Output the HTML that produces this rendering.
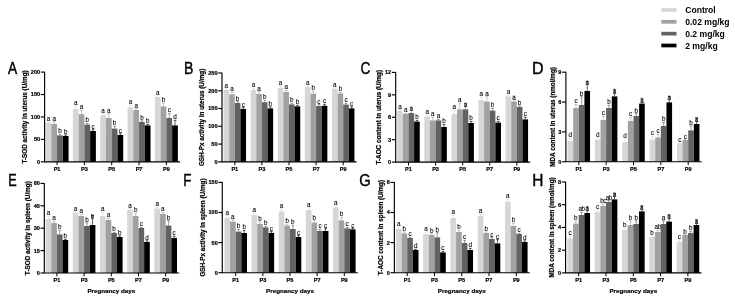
<!DOCTYPE html>
<html><head><meta charset="utf-8"><title>Figure</title>
<style>
html,body{margin:0;padding:0;background:#fff;}
svg{display:block;filter:grayscale(1);}
text{font-family:'Liberation Sans', Arial, sans-serif;fill:#000;}
.lt{font-size:6.3px;text-anchor:middle;stroke:#000;stroke-width:0.1px;}
.tk{font-size:5.55px;font-weight:bold;stroke:#000;stroke-width:0.2px;}
.ti{font-size:6.33px;font-weight:bold;stroke:#000;stroke-width:0.2px;}
.xt{font-size:6.24px;}
.pl{font-size:16.5px;stroke:#000;stroke-width:0.45px;}
.lg{font-size:8.6px;font-weight:bold;}
</style></head><body>
<svg width="735" height="302" viewBox="0 0 735 302">
<rect width="735" height="302" fill="#fff"/>
<rect x="45.55" y="123.00" width="5.75" height="38.80" fill="#d6d6d6"/>
<path d="M48.42 123.00V121.60M46.97 121.90H49.88" stroke="#d6d6d6" stroke-width="0.62" fill="none"/>
<text x="48.42" y="120.80" class="lt">a</text>
<rect x="51.30" y="124.00" width="5.75" height="37.80" fill="#a1a1a4"/>
<path d="M54.17 124.00V121.40M52.72 121.70H55.62" stroke="#a1a1a4" stroke-width="0.62" fill="none"/>
<text x="54.17" y="120.60" class="lt">a</text>
<rect x="57.05" y="135.40" width="5.75" height="26.40" fill="#626261"/>
<path d="M59.92 135.40V134.00M58.47 134.30H61.38" stroke="#626261" stroke-width="0.62" fill="none"/>
<text x="59.92" y="133.20" class="lt">b</text>
<rect x="62.80" y="136.00" width="5.75" height="25.80" fill="#000000"/>
<path d="M65.67 136.00V134.60M64.22 134.90H67.12" stroke="#000000" stroke-width="0.62" fill="none"/>
<text x="65.67" y="133.80" class="lt">b</text>
<rect x="72.88" y="109.00" width="5.75" height="52.80" fill="#d6d6d6"/>
<path d="M75.75 109.00V105.60M74.30 105.90H77.20" stroke="#d6d6d6" stroke-width="0.62" fill="none"/>
<text x="75.75" y="104.80" class="lt">a</text>
<rect x="78.63" y="114.20" width="5.75" height="47.60" fill="#a1a1a4"/>
<path d="M81.50 114.20V110.00M80.05 110.30H82.95" stroke="#a1a1a4" stroke-width="0.62" fill="none"/>
<text x="81.50" y="109.20" class="lt">a</text>
<rect x="84.38" y="124.60" width="5.75" height="37.20" fill="#626261"/>
<path d="M87.25 124.60V123.00M85.80 123.30H88.70" stroke="#626261" stroke-width="0.62" fill="none"/>
<text x="87.25" y="122.20" class="lt">b</text>
<rect x="90.13" y="131.00" width="5.75" height="30.80" fill="#000000"/>
<path d="M93.00 131.00V129.40M91.55 129.70H94.45" stroke="#000000" stroke-width="0.62" fill="none"/>
<text x="93.00" y="128.60" class="lt">c</text>
<rect x="100.21" y="115.40" width="5.75" height="46.40" fill="#d6d6d6"/>
<path d="M103.08 115.40V114.00M101.63 114.30H104.53" stroke="#d6d6d6" stroke-width="0.62" fill="none"/>
<text x="103.08" y="113.20" class="lt">a</text>
<rect x="105.96" y="118.00" width="5.75" height="43.80" fill="#a1a1a4"/>
<path d="M108.83 118.00V113.60M107.38 113.90H110.28" stroke="#a1a1a4" stroke-width="0.62" fill="none"/>
<text x="108.83" y="112.80" class="lt">a</text>
<rect x="111.71" y="128.60" width="5.75" height="33.20" fill="#626261"/>
<path d="M114.58 128.60V126.00M113.13 126.30H116.03" stroke="#626261" stroke-width="0.62" fill="none"/>
<text x="114.58" y="125.20" class="lt">b</text>
<rect x="117.46" y="135.00" width="5.75" height="26.80" fill="#000000"/>
<path d="M120.33 135.00V133.60M118.88 133.90H121.78" stroke="#000000" stroke-width="0.62" fill="none"/>
<text x="120.33" y="132.80" class="lt">c</text>
<rect x="127.54" y="107.40" width="5.75" height="54.40" fill="#d6d6d6"/>
<path d="M130.41 107.40V105.00M128.97 105.30H131.86" stroke="#d6d6d6" stroke-width="0.62" fill="none"/>
<text x="130.41" y="104.20" class="lt">a</text>
<rect x="133.29" y="110.00" width="5.75" height="51.80" fill="#a1a1a4"/>
<path d="M136.16 110.00V108.60M134.72 108.90H137.61" stroke="#a1a1a4" stroke-width="0.62" fill="none"/>
<text x="136.16" y="107.80" class="lt">a</text>
<rect x="139.04" y="122.00" width="5.75" height="39.80" fill="#626261"/>
<path d="M141.91 122.00V120.60M140.47 120.90H143.36" stroke="#626261" stroke-width="0.62" fill="none"/>
<text x="141.91" y="119.80" class="lt">b</text>
<rect x="144.79" y="125.40" width="5.75" height="36.40" fill="#000000"/>
<path d="M147.66 125.40V124.00M146.22 124.30H149.11" stroke="#000000" stroke-width="0.62" fill="none"/>
<text x="147.66" y="123.20" class="lt">b</text>
<rect x="154.87" y="97.00" width="5.75" height="64.80" fill="#d6d6d6"/>
<path d="M157.75 97.00V95.40M156.30 95.70H159.19" stroke="#d6d6d6" stroke-width="0.62" fill="none"/>
<text x="157.75" y="94.60" class="lt">a</text>
<rect x="160.62" y="106.40" width="5.75" height="55.40" fill="#a1a1a4"/>
<path d="M163.50 106.40V103.00M162.05 103.30H164.94" stroke="#a1a1a4" stroke-width="0.62" fill="none"/>
<text x="163.50" y="102.20" class="lt">b</text>
<rect x="166.37" y="118.00" width="5.75" height="43.80" fill="#626261"/>
<path d="M169.25 118.00V113.00M167.80 113.30H170.69" stroke="#626261" stroke-width="0.62" fill="none"/>
<text x="169.25" y="112.20" class="lt">c</text>
<rect x="172.12" y="125.40" width="5.75" height="36.40" fill="#000000"/>
<path d="M175.00 125.40V120.00M173.55 120.30H176.44" stroke="#000000" stroke-width="0.62" fill="none"/>
<text x="175.00" y="119.20" class="lt">d</text>
<path d="M44.60 71.75V161.80H180.07" stroke="#000" stroke-width="1.15" fill="none"/>
<path d="M40.80 161.80H44.60" stroke="#000" stroke-width="1.15"/>
<text x="40.10" y="163.70" class="tk" text-anchor="end">0</text>
<path d="M40.80 139.38H44.60" stroke="#000" stroke-width="1.15"/>
<text x="40.10" y="141.28" class="tk" text-anchor="end">50</text>
<path d="M40.80 116.95H44.60" stroke="#000" stroke-width="1.15"/>
<text x="40.10" y="118.85" class="tk" text-anchor="end">100</text>
<path d="M40.80 94.53H44.60" stroke="#000" stroke-width="1.15"/>
<text x="40.10" y="96.43" class="tk" text-anchor="end">150</text>
<path d="M40.80 72.10H44.60" stroke="#000" stroke-width="1.15"/>
<text x="40.10" y="74.00" class="tk" text-anchor="end">200</text>
<path d="M57.05 161.80V165.20" stroke="#000" stroke-width="1.0"/>
<text x="57.05" y="171.15" class="tk" text-anchor="middle">P1</text>
<path d="M84.38 161.80V165.20" stroke="#000" stroke-width="1.0"/>
<text x="84.38" y="171.15" class="tk" text-anchor="middle">P3</text>
<path d="M111.71 161.80V165.20" stroke="#000" stroke-width="1.0"/>
<text x="111.71" y="171.15" class="tk" text-anchor="middle">P5</text>
<path d="M139.04 161.80V165.20" stroke="#000" stroke-width="1.0"/>
<text x="139.04" y="171.15" class="tk" text-anchor="middle">P7</text>
<path d="M166.37 161.80V165.20" stroke="#000" stroke-width="1.0"/>
<text x="166.37" y="171.15" class="tk" text-anchor="middle">P9</text>
<text transform="translate(26.90 116.95) rotate(-90)" class="ti" text-anchor="middle">T-SOD activity in uterus (U/mg)</text>
<text transform="translate(8.10 74.45) scale(0.835 1)" class="pl">A</text>
<rect x="223.56" y="90.00" width="5.62" height="71.85" fill="#d6d6d6"/>
<path d="M226.37 90.00V88.60M224.92 88.90H227.82" stroke="#d6d6d6" stroke-width="0.62" fill="none"/>
<text x="226.37" y="87.80" class="lt">a</text>
<rect x="229.18" y="94.40" width="5.62" height="67.45" fill="#a1a1a4"/>
<path d="M231.99 94.40V92.00M230.54 92.30H233.44" stroke="#a1a1a4" stroke-width="0.62" fill="none"/>
<text x="231.99" y="91.20" class="lt">a</text>
<rect x="234.80" y="103.00" width="5.62" height="58.85" fill="#626261"/>
<path d="M237.61 103.00V101.40M236.16 101.70H239.06" stroke="#626261" stroke-width="0.62" fill="none"/>
<text x="237.61" y="100.60" class="lt">b</text>
<rect x="240.42" y="109.00" width="5.62" height="52.85" fill="#000000"/>
<path d="M243.23 109.00V107.40M241.78 107.70H244.68" stroke="#000000" stroke-width="0.62" fill="none"/>
<text x="243.23" y="106.60" class="lt">c</text>
<rect x="250.66" y="90.00" width="5.62" height="71.85" fill="#d6d6d6"/>
<path d="M253.47 90.00V88.00M252.02 88.30H254.92" stroke="#d6d6d6" stroke-width="0.62" fill="none"/>
<text x="253.47" y="87.20" class="lt">a</text>
<rect x="256.28" y="94.00" width="5.62" height="67.85" fill="#a1a1a4"/>
<path d="M259.09 94.00V91.60M257.64 91.90H260.54" stroke="#a1a1a4" stroke-width="0.62" fill="none"/>
<text x="259.09" y="90.80" class="lt">a</text>
<rect x="261.90" y="102.20" width="5.62" height="59.65" fill="#626261"/>
<path d="M264.71 102.20V100.00M263.26 100.30H266.16" stroke="#626261" stroke-width="0.62" fill="none"/>
<text x="264.71" y="99.20" class="lt">b</text>
<rect x="267.52" y="108.40" width="5.62" height="53.45" fill="#000000"/>
<path d="M270.33 108.40V106.60M268.88 106.90H271.78" stroke="#000000" stroke-width="0.62" fill="none"/>
<text x="270.33" y="105.80" class="lt">b</text>
<rect x="277.76" y="88.00" width="5.62" height="73.85" fill="#d6d6d6"/>
<path d="M280.57 88.00V86.00M279.12 86.30H282.02" stroke="#d6d6d6" stroke-width="0.62" fill="none"/>
<text x="280.57" y="85.20" class="lt">a</text>
<rect x="283.38" y="92.00" width="5.62" height="69.85" fill="#a1a1a4"/>
<path d="M286.19 92.00V90.00M284.74 90.30H287.64" stroke="#a1a1a4" stroke-width="0.62" fill="none"/>
<text x="286.19" y="89.20" class="lt">a</text>
<rect x="289.00" y="104.40" width="5.62" height="57.45" fill="#626261"/>
<path d="M291.81 104.40V103.00M290.36 103.30H293.26" stroke="#626261" stroke-width="0.62" fill="none"/>
<text x="291.81" y="102.20" class="lt">b</text>
<rect x="294.62" y="106.40" width="5.62" height="55.45" fill="#000000"/>
<path d="M297.43 106.40V105.00M295.98 105.30H298.88" stroke="#000000" stroke-width="0.62" fill="none"/>
<text x="297.43" y="104.20" class="lt">b</text>
<rect x="304.86" y="87.00" width="5.62" height="74.85" fill="#d6d6d6"/>
<path d="M307.67 87.00V85.70M306.22 86.00H309.12" stroke="#d6d6d6" stroke-width="0.62" fill="none"/>
<text x="307.67" y="84.90" class="lt">a</text>
<rect x="310.48" y="93.60" width="5.62" height="68.25" fill="#a1a1a4"/>
<path d="M313.29 93.60V91.00M311.84 91.30H314.74" stroke="#a1a1a4" stroke-width="0.62" fill="none"/>
<text x="313.29" y="90.20" class="lt">b</text>
<rect x="316.10" y="106.00" width="5.62" height="55.85" fill="#626261"/>
<path d="M318.91 106.00V104.40M317.46 104.70H320.36" stroke="#626261" stroke-width="0.62" fill="none"/>
<text x="318.91" y="103.60" class="lt">c</text>
<rect x="321.72" y="105.80" width="5.62" height="56.05" fill="#000000"/>
<path d="M324.53 105.80V104.00M323.08 104.30H325.98" stroke="#000000" stroke-width="0.62" fill="none"/>
<text x="324.53" y="103.20" class="lt">c</text>
<rect x="331.96" y="89.00" width="5.62" height="72.85" fill="#d6d6d6"/>
<path d="M334.77 89.00V87.70M333.32 88.00H336.22" stroke="#d6d6d6" stroke-width="0.62" fill="none"/>
<text x="334.77" y="86.90" class="lt">a</text>
<rect x="337.58" y="93.40" width="5.62" height="68.45" fill="#a1a1a4"/>
<path d="M340.39 93.40V92.00M338.94 92.30H341.84" stroke="#a1a1a4" stroke-width="0.62" fill="none"/>
<text x="340.39" y="91.20" class="lt">b</text>
<rect x="343.20" y="104.60" width="5.62" height="57.25" fill="#626261"/>
<path d="M346.01 104.60V103.00M344.56 103.30H347.46" stroke="#626261" stroke-width="0.62" fill="none"/>
<text x="346.01" y="102.20" class="lt">c</text>
<rect x="348.82" y="108.40" width="5.62" height="53.45" fill="#000000"/>
<path d="M351.63 108.40V106.60M350.18 106.90H353.08" stroke="#000000" stroke-width="0.62" fill="none"/>
<text x="351.63" y="105.80" class="lt">c</text>
<path d="M222.00 72.65V161.85H356.64" stroke="#000" stroke-width="1.15" fill="none"/>
<path d="M218.20 161.85H222.00" stroke="#000" stroke-width="1.15"/>
<text x="217.50" y="163.75" class="tk" text-anchor="end">0</text>
<path d="M218.20 144.08H222.00" stroke="#000" stroke-width="1.15"/>
<text x="217.50" y="145.98" class="tk" text-anchor="end">50</text>
<path d="M218.20 126.31H222.00" stroke="#000" stroke-width="1.15"/>
<text x="217.50" y="128.21" class="tk" text-anchor="end">100</text>
<path d="M218.20 108.54H222.00" stroke="#000" stroke-width="1.15"/>
<text x="217.50" y="110.44" class="tk" text-anchor="end">150</text>
<path d="M218.20 90.77H222.00" stroke="#000" stroke-width="1.15"/>
<text x="217.50" y="92.67" class="tk" text-anchor="end">200</text>
<path d="M218.20 73.00H222.00" stroke="#000" stroke-width="1.15"/>
<text x="217.50" y="74.90" class="tk" text-anchor="end">250</text>
<path d="M234.80 161.85V165.25" stroke="#000" stroke-width="1.0"/>
<text x="234.80" y="171.20" class="tk" text-anchor="middle">P1</text>
<path d="M261.90 161.85V165.25" stroke="#000" stroke-width="1.0"/>
<text x="261.90" y="171.20" class="tk" text-anchor="middle">P3</text>
<path d="M289.00 161.85V165.25" stroke="#000" stroke-width="1.0"/>
<text x="289.00" y="171.20" class="tk" text-anchor="middle">P5</text>
<path d="M316.10 161.85V165.25" stroke="#000" stroke-width="1.0"/>
<text x="316.10" y="171.20" class="tk" text-anchor="middle">P7</text>
<path d="M343.20 161.85V165.25" stroke="#000" stroke-width="1.0"/>
<text x="343.20" y="171.20" class="tk" text-anchor="middle">P9</text>
<text transform="translate(204.30 117.42) rotate(-90)" class="ti" text-anchor="middle">GSH-Px activity in uterus (U/mg)</text>
<text transform="translate(183.94 74.45) scale(0.854 1)" class="pl">B</text>
<rect x="397.26" y="111.00" width="5.62" height="51.10" fill="#d6d6d6"/>
<path d="M400.07 111.00V109.40M398.62 109.70H401.52" stroke="#d6d6d6" stroke-width="0.62" fill="none"/>
<text x="400.07" y="108.60" class="lt">a</text>
<rect x="402.88" y="114.00" width="5.62" height="48.10" fill="#a1a1a4"/>
<path d="M405.69 114.00V113.00M404.24 113.30H407.14" stroke="#a1a1a4" stroke-width="0.62" fill="none"/>
<text x="405.69" y="112.20" class="lt">a</text>
<rect x="408.50" y="113.00" width="5.62" height="49.10" fill="#626261"/>
<path d="M411.31 113.00V106.80M409.86 107.10H412.76" stroke="#626261" stroke-width="0.62" fill="none"/>
<text x="411.31" y="111.30" class="lt">a</text>
<rect x="414.12" y="121.60" width="5.62" height="40.50" fill="#000000"/>
<path d="M416.93 121.60V120.00M415.48 120.30H418.38" stroke="#000000" stroke-width="0.62" fill="none"/>
<text x="416.93" y="119.20" class="lt">b</text>
<rect x="424.34" y="116.60" width="5.62" height="45.50" fill="#d6d6d6"/>
<path d="M427.15 116.60V115.00M425.70 115.30H428.60" stroke="#d6d6d6" stroke-width="0.62" fill="none"/>
<text x="427.15" y="114.20" class="lt">a</text>
<rect x="429.96" y="120.40" width="5.62" height="41.70" fill="#a1a1a4"/>
<path d="M432.77 120.40V117.00M431.32 117.30H434.22" stroke="#a1a1a4" stroke-width="0.62" fill="none"/>
<text x="432.77" y="116.20" class="lt">a</text>
<rect x="435.58" y="120.40" width="5.62" height="41.70" fill="#626261"/>
<path d="M438.39 120.40V119.00M436.94 119.30H439.84" stroke="#626261" stroke-width="0.62" fill="none"/>
<text x="438.39" y="118.20" class="lt">a</text>
<rect x="441.20" y="127.00" width="5.62" height="35.10" fill="#000000"/>
<path d="M444.01 127.00V124.00M442.56 124.30H445.46" stroke="#000000" stroke-width="0.62" fill="none"/>
<text x="444.01" y="123.20" class="lt">b</text>
<rect x="451.42" y="114.00" width="5.62" height="48.10" fill="#d6d6d6"/>
<path d="M454.23 114.00V110.00M452.78 110.30H455.68" stroke="#d6d6d6" stroke-width="0.62" fill="none"/>
<text x="454.23" y="109.20" class="lt">a</text>
<rect x="457.04" y="109.40" width="5.62" height="52.70" fill="#a1a1a4"/>
<path d="M459.85 109.40V103.00M458.40 103.30H461.30" stroke="#a1a1a4" stroke-width="0.62" fill="none"/>
<text x="459.85" y="102.20" class="lt">a</text>
<rect x="462.66" y="109.40" width="5.62" height="52.70" fill="#626261"/>
<path d="M465.47 109.40V102.90M464.02 103.20H466.92" stroke="#626261" stroke-width="0.62" fill="none"/>
<text x="465.47" y="107.40" class="lt">a</text>
<rect x="468.28" y="123.00" width="5.62" height="39.10" fill="#000000"/>
<path d="M471.09 123.00V121.00M469.64 121.30H472.54" stroke="#000000" stroke-width="0.62" fill="none"/>
<text x="471.09" y="120.20" class="lt">b</text>
<rect x="478.50" y="100.00" width="5.62" height="62.10" fill="#d6d6d6"/>
<path d="M481.31 100.00V96.70M479.86 97.00H482.76" stroke="#d6d6d6" stroke-width="0.62" fill="none"/>
<text x="481.31" y="95.90" class="lt">a</text>
<rect x="484.12" y="101.60" width="5.62" height="60.50" fill="#a1a1a4"/>
<path d="M486.93 101.60V96.60M485.48 96.90H488.38" stroke="#a1a1a4" stroke-width="0.62" fill="none"/>
<text x="486.93" y="95.80" class="lt">a</text>
<rect x="489.74" y="110.60" width="5.62" height="51.50" fill="#626261"/>
<path d="M492.55 110.60V108.00M491.10 108.30H494.00" stroke="#626261" stroke-width="0.62" fill="none"/>
<text x="492.55" y="107.20" class="lt">b</text>
<rect x="495.36" y="122.60" width="5.62" height="39.50" fill="#000000"/>
<path d="M498.17 122.60V121.00M496.72 121.30H499.62" stroke="#000000" stroke-width="0.62" fill="none"/>
<text x="498.17" y="120.20" class="lt">c</text>
<rect x="505.58" y="96.40" width="5.62" height="65.70" fill="#d6d6d6"/>
<path d="M508.39 96.40V95.00M506.94 95.30H509.84" stroke="#d6d6d6" stroke-width="0.62" fill="none"/>
<text x="508.39" y="94.20" class="lt">a</text>
<rect x="511.20" y="101.40" width="5.62" height="60.70" fill="#a1a1a4"/>
<path d="M514.01 101.40V95.40M512.56 95.70H515.46" stroke="#a1a1a4" stroke-width="0.62" fill="none"/>
<text x="514.01" y="99.90" class="lt">a</text>
<rect x="516.82" y="107.00" width="5.62" height="55.10" fill="#626261"/>
<path d="M519.63 107.00V105.60M518.18 105.90H521.08" stroke="#626261" stroke-width="0.62" fill="none"/>
<text x="519.63" y="104.80" class="lt">b</text>
<rect x="522.44" y="119.40" width="5.62" height="42.70" fill="#000000"/>
<path d="M525.25 119.40V117.00M523.80 117.30H526.70" stroke="#000000" stroke-width="0.62" fill="none"/>
<text x="525.25" y="116.20" class="lt">c</text>
<path d="M395.70 72.05V162.10H530.26" stroke="#000" stroke-width="1.15" fill="none"/>
<path d="M391.90 162.10H395.70" stroke="#000" stroke-width="1.15"/>
<text x="391.20" y="164.00" class="tk" text-anchor="end">0</text>
<path d="M391.90 139.68H395.70" stroke="#000" stroke-width="1.15"/>
<text x="391.20" y="141.58" class="tk" text-anchor="end">3</text>
<path d="M391.90 117.25H395.70" stroke="#000" stroke-width="1.15"/>
<text x="391.20" y="119.15" class="tk" text-anchor="end">6</text>
<path d="M391.90 94.83H395.70" stroke="#000" stroke-width="1.15"/>
<text x="391.20" y="96.73" class="tk" text-anchor="end">9</text>
<path d="M391.90 72.40H395.70" stroke="#000" stroke-width="1.15"/>
<text x="391.20" y="74.30" class="tk" text-anchor="end">12</text>
<path d="M408.50 162.10V165.50" stroke="#000" stroke-width="1.0"/>
<text x="408.50" y="171.45" class="tk" text-anchor="middle">P1</text>
<path d="M435.58 162.10V165.50" stroke="#000" stroke-width="1.0"/>
<text x="435.58" y="171.45" class="tk" text-anchor="middle">P3</text>
<path d="M462.66 162.10V165.50" stroke="#000" stroke-width="1.0"/>
<text x="462.66" y="171.45" class="tk" text-anchor="middle">P5</text>
<path d="M489.74 162.10V165.50" stroke="#000" stroke-width="1.0"/>
<text x="489.74" y="171.45" class="tk" text-anchor="middle">P7</text>
<path d="M516.82 162.10V165.50" stroke="#000" stroke-width="1.0"/>
<text x="516.82" y="171.45" class="tk" text-anchor="middle">P9</text>
<text transform="translate(381.30 117.25) rotate(-90)" class="ti" text-anchor="middle">T-AOC content in uterus (U/mg)</text>
<text transform="translate(360.48 74.45) scale(0.828 1)" class="pl">C</text>
<rect x="567.56" y="141.00" width="5.62" height="20.70" fill="#d6d6d6"/>
<path d="M570.37 141.00V138.20M568.92 138.50H571.82" stroke="#d6d6d6" stroke-width="0.62" fill="none"/>
<text x="570.37" y="137.40" class="lt">d</text>
<rect x="573.18" y="108.00" width="5.62" height="53.70" fill="#a1a1a4"/>
<path d="M575.99 108.00V104.20M574.54 104.50H577.44" stroke="#a1a1a4" stroke-width="0.62" fill="none"/>
<text x="575.99" y="103.40" class="lt">c</text>
<rect x="578.80" y="105.00" width="5.62" height="56.70" fill="#626261"/>
<path d="M581.61 105.00V96.50M580.16 96.80H583.06" stroke="#626261" stroke-width="0.62" fill="none"/>
<text x="581.61" y="95.70" class="lt">b</text>
<rect x="584.42" y="91.00" width="5.62" height="70.70" fill="#000000"/>
<path d="M587.23 91.00V80.90M585.78 81.20H588.68" stroke="#000000" stroke-width="0.62" fill="none"/>
<text x="587.23" y="85.40" class="lt">a</text>
<rect x="594.91" y="139.60" width="5.62" height="22.10" fill="#d6d6d6"/>
<path d="M597.72 139.60V138.00M596.27 138.30H599.17" stroke="#d6d6d6" stroke-width="0.62" fill="none"/>
<text x="597.72" y="137.20" class="lt">d</text>
<rect x="600.53" y="120.00" width="5.62" height="41.70" fill="#a1a1a4"/>
<path d="M603.34 120.00V116.00M601.89 116.30H604.79" stroke="#a1a1a4" stroke-width="0.62" fill="none"/>
<text x="603.34" y="115.20" class="lt">c</text>
<rect x="606.15" y="108.00" width="5.62" height="53.70" fill="#626261"/>
<path d="M608.96 108.00V105.00M607.51 105.30H610.41" stroke="#626261" stroke-width="0.62" fill="none"/>
<text x="608.96" y="104.20" class="lt">b</text>
<rect x="611.77" y="96.40" width="5.62" height="65.30" fill="#000000"/>
<path d="M614.58 96.40V89.00M613.13 89.30H616.03" stroke="#000000" stroke-width="0.62" fill="none"/>
<text x="614.58" y="93.50" class="lt">a</text>
<rect x="622.26" y="142.00" width="5.62" height="19.70" fill="#d6d6d6"/>
<path d="M625.07 142.00V139.00M623.62 139.30H626.52" stroke="#d6d6d6" stroke-width="0.62" fill="none"/>
<text x="625.07" y="138.20" class="lt">d</text>
<rect x="627.88" y="121.00" width="5.62" height="40.70" fill="#a1a1a4"/>
<path d="M630.69 121.00V117.00M629.24 117.30H632.14" stroke="#a1a1a4" stroke-width="0.62" fill="none"/>
<text x="630.69" y="116.20" class="lt">c</text>
<rect x="633.50" y="116.00" width="5.62" height="45.70" fill="#626261"/>
<path d="M636.31 116.00V113.40M634.86 113.70H637.76" stroke="#626261" stroke-width="0.62" fill="none"/>
<text x="636.31" y="112.60" class="lt">b</text>
<rect x="639.12" y="103.60" width="5.62" height="58.10" fill="#000000"/>
<path d="M641.93 103.60V98.10M640.48 98.40H643.38" stroke="#000000" stroke-width="0.62" fill="none"/>
<text x="641.93" y="102.60" class="lt">a</text>
<rect x="649.61" y="139.60" width="5.62" height="22.10" fill="#d6d6d6"/>
<path d="M652.42 139.60V136.00M650.97 136.30H653.87" stroke="#d6d6d6" stroke-width="0.62" fill="none"/>
<text x="652.42" y="135.20" class="lt">c</text>
<rect x="655.23" y="137.40" width="5.62" height="24.30" fill="#a1a1a4"/>
<path d="M658.04 137.40V134.00M656.59 134.30H659.49" stroke="#a1a1a4" stroke-width="0.62" fill="none"/>
<text x="658.04" y="133.20" class="lt">c</text>
<rect x="660.85" y="126.00" width="5.62" height="35.70" fill="#626261"/>
<path d="M663.66 126.00V122.00M662.21 122.30H665.11" stroke="#626261" stroke-width="0.62" fill="none"/>
<text x="663.66" y="121.20" class="lt">b</text>
<rect x="666.47" y="102.40" width="5.62" height="59.30" fill="#000000"/>
<path d="M669.28 102.40V95.90M667.83 96.20H670.73" stroke="#000000" stroke-width="0.62" fill="none"/>
<text x="669.28" y="100.40" class="lt">a</text>
<rect x="676.96" y="143.40" width="5.62" height="18.30" fill="#d6d6d6"/>
<path d="M679.77 143.40V142.40M678.32 142.70H681.22" stroke="#d6d6d6" stroke-width="0.62" fill="none"/>
<text x="679.77" y="141.60" class="lt">c</text>
<rect x="682.58" y="140.00" width="5.62" height="21.70" fill="#a1a1a4"/>
<path d="M685.39 140.00V139.60M683.94 139.90H686.84" stroke="#a1a1a4" stroke-width="0.62" fill="none"/>
<text x="685.39" y="138.80" class="lt">c</text>
<rect x="688.20" y="130.40" width="5.62" height="31.30" fill="#626261"/>
<path d="M691.01 130.40V125.60M689.56 125.90H692.46" stroke="#626261" stroke-width="0.62" fill="none"/>
<text x="691.01" y="124.80" class="lt">b</text>
<rect x="693.82" y="124.00" width="5.62" height="37.70" fill="#000000"/>
<path d="M696.63 124.00V117.40M695.18 117.70H698.08" stroke="#000000" stroke-width="0.62" fill="none"/>
<text x="696.63" y="121.90" class="lt">a</text>
<path d="M565.90 71.85V161.70H701.64" stroke="#000" stroke-width="1.15" fill="none"/>
<path d="M562.10 161.70H565.90" stroke="#000" stroke-width="1.15"/>
<text x="561.40" y="163.60" class="tk" text-anchor="end">0</text>
<path d="M562.10 131.87H565.90" stroke="#000" stroke-width="1.15"/>
<text x="561.40" y="133.77" class="tk" text-anchor="end">3</text>
<path d="M562.10 102.03H565.90" stroke="#000" stroke-width="1.15"/>
<text x="561.40" y="103.93" class="tk" text-anchor="end">6</text>
<path d="M562.10 72.20H565.90" stroke="#000" stroke-width="1.15"/>
<text x="561.40" y="74.10" class="tk" text-anchor="end">9</text>
<path d="M578.80 161.70V165.10" stroke="#000" stroke-width="1.0"/>
<text x="578.80" y="171.05" class="tk" text-anchor="middle">P1</text>
<path d="M606.15 161.70V165.10" stroke="#000" stroke-width="1.0"/>
<text x="606.15" y="171.05" class="tk" text-anchor="middle">P3</text>
<path d="M633.50 161.70V165.10" stroke="#000" stroke-width="1.0"/>
<text x="633.50" y="171.05" class="tk" text-anchor="middle">P5</text>
<path d="M660.85 161.70V165.10" stroke="#000" stroke-width="1.0"/>
<text x="660.85" y="171.05" class="tk" text-anchor="middle">P7</text>
<path d="M688.20 161.70V165.10" stroke="#000" stroke-width="1.0"/>
<text x="688.20" y="171.05" class="tk" text-anchor="middle">P9</text>
<text transform="translate(554.50 116.95) rotate(-90)" class="ti" text-anchor="middle">MDA content in uterus (nmol/mg)</text>
<text transform="translate(531.90 74.45) scale(0.976 1)" class="pl">D</text>
<rect x="45.60" y="219.00" width="5.65" height="54.00" fill="#d6d6d6"/>
<path d="M48.42 219.00V216.00M46.97 216.30H49.88" stroke="#d6d6d6" stroke-width="0.62" fill="none"/>
<text x="48.42" y="215.20" class="lt">a</text>
<rect x="51.25" y="223.00" width="5.65" height="50.00" fill="#a1a1a4"/>
<path d="M54.07 223.00V221.00M52.62 221.30H55.52" stroke="#a1a1a4" stroke-width="0.62" fill="none"/>
<text x="54.07" y="220.20" class="lt">a</text>
<rect x="56.90" y="234.40" width="5.65" height="38.60" fill="#626261"/>
<path d="M59.72 234.40V230.00M58.27 230.30H61.17" stroke="#626261" stroke-width="0.62" fill="none"/>
<text x="59.72" y="229.20" class="lt">b</text>
<rect x="62.55" y="240.00" width="5.65" height="33.00" fill="#000000"/>
<path d="M65.38 240.00V239.00M63.92 239.30H66.83" stroke="#000000" stroke-width="0.62" fill="none"/>
<text x="65.38" y="238.20" class="lt">b</text>
<rect x="72.80" y="213.00" width="5.65" height="60.00" fill="#d6d6d6"/>
<path d="M75.62 213.00V211.60M74.17 211.90H77.08" stroke="#d6d6d6" stroke-width="0.62" fill="none"/>
<text x="75.62" y="210.80" class="lt">a</text>
<rect x="78.45" y="216.00" width="5.65" height="57.00" fill="#a1a1a4"/>
<path d="M81.28 216.00V214.00M79.83 214.30H82.73" stroke="#a1a1a4" stroke-width="0.62" fill="none"/>
<text x="81.28" y="213.20" class="lt">a</text>
<rect x="84.10" y="226.00" width="5.65" height="47.00" fill="#626261"/>
<path d="M86.92 226.00V222.60M85.47 222.90H88.38" stroke="#626261" stroke-width="0.62" fill="none"/>
<text x="86.92" y="221.80" class="lt">b</text>
<rect x="89.75" y="225.00" width="5.65" height="48.00" fill="#000000"/>
<path d="M92.58 225.00V214.90M91.12 215.20H94.03" stroke="#000000" stroke-width="0.62" fill="none"/>
<text x="92.58" y="219.40" class="lt">b</text>
<rect x="100.00" y="216.00" width="5.65" height="57.00" fill="#d6d6d6"/>
<path d="M102.83 216.00V212.00M101.38 212.30H104.28" stroke="#d6d6d6" stroke-width="0.62" fill="none"/>
<text x="102.83" y="211.20" class="lt">a</text>
<rect x="105.65" y="220.00" width="5.65" height="53.00" fill="#a1a1a4"/>
<path d="M108.48 220.00V218.00M107.03 218.30H109.93" stroke="#a1a1a4" stroke-width="0.62" fill="none"/>
<text x="108.48" y="217.20" class="lt">a</text>
<rect x="111.30" y="233.00" width="5.65" height="40.00" fill="#626261"/>
<path d="M114.12 233.00V232.00M112.67 232.30H115.58" stroke="#626261" stroke-width="0.62" fill="none"/>
<text x="114.12" y="231.20" class="lt">b</text>
<rect x="116.95" y="237.00" width="5.65" height="36.00" fill="#000000"/>
<path d="M119.78 237.00V235.60M118.33 235.90H121.23" stroke="#000000" stroke-width="0.62" fill="none"/>
<text x="119.78" y="234.80" class="lt">b</text>
<rect x="127.20" y="210.00" width="5.65" height="63.00" fill="#d6d6d6"/>
<path d="M130.02 210.00V208.40M128.57 208.70H131.47" stroke="#d6d6d6" stroke-width="0.62" fill="none"/>
<text x="130.02" y="207.60" class="lt">a</text>
<rect x="132.85" y="216.00" width="5.65" height="57.00" fill="#a1a1a4"/>
<path d="M135.67 216.00V213.00M134.22 213.30H137.12" stroke="#a1a1a4" stroke-width="0.62" fill="none"/>
<text x="135.67" y="212.20" class="lt">b</text>
<rect x="138.50" y="228.00" width="5.65" height="45.00" fill="#626261"/>
<path d="M141.32 228.00V227.00M139.88 227.30H142.77" stroke="#626261" stroke-width="0.62" fill="none"/>
<text x="141.32" y="226.20" class="lt">c</text>
<rect x="144.15" y="242.00" width="5.65" height="31.00" fill="#000000"/>
<path d="M146.97 242.00V240.60M145.52 240.90H148.42" stroke="#000000" stroke-width="0.62" fill="none"/>
<text x="146.97" y="239.80" class="lt">d</text>
<rect x="154.40" y="208.60" width="5.65" height="64.40" fill="#d6d6d6"/>
<path d="M157.22 208.60V207.00M155.77 207.30H158.67" stroke="#d6d6d6" stroke-width="0.62" fill="none"/>
<text x="157.22" y="206.20" class="lt">a</text>
<rect x="160.05" y="214.00" width="5.65" height="59.00" fill="#a1a1a4"/>
<path d="M162.87 214.00V212.00M161.42 212.30H164.32" stroke="#a1a1a4" stroke-width="0.62" fill="none"/>
<text x="162.87" y="211.20" class="lt">a</text>
<rect x="165.70" y="225.60" width="5.65" height="47.40" fill="#626261"/>
<path d="M168.52 225.60V220.60M167.07 220.90H169.97" stroke="#626261" stroke-width="0.62" fill="none"/>
<text x="168.52" y="219.80" class="lt">b</text>
<rect x="171.35" y="238.00" width="5.65" height="35.00" fill="#000000"/>
<path d="M174.17 238.00V236.00M172.72 236.30H175.62" stroke="#000000" stroke-width="0.62" fill="none"/>
<text x="174.17" y="235.20" class="lt">c</text>
<path d="M44.30 183.05V273.00H179.20" stroke="#000" stroke-width="1.15" fill="none"/>
<path d="M40.50 273.00H44.30" stroke="#000" stroke-width="1.15"/>
<text x="39.80" y="274.90" class="tk" text-anchor="end">0</text>
<path d="M40.50 250.60H44.30" stroke="#000" stroke-width="1.15"/>
<text x="39.80" y="252.50" class="tk" text-anchor="end">15</text>
<path d="M40.50 228.20H44.30" stroke="#000" stroke-width="1.15"/>
<text x="39.80" y="230.10" class="tk" text-anchor="end">30</text>
<path d="M40.50 205.80H44.30" stroke="#000" stroke-width="1.15"/>
<text x="39.80" y="207.70" class="tk" text-anchor="end">45</text>
<path d="M40.50 183.40H44.30" stroke="#000" stroke-width="1.15"/>
<text x="39.80" y="185.30" class="tk" text-anchor="end">60</text>
<path d="M56.90 273.00V276.40" stroke="#000" stroke-width="1.0"/>
<text x="56.90" y="282.10" class="tk" text-anchor="middle">P1</text>
<path d="M84.10 273.00V276.40" stroke="#000" stroke-width="1.0"/>
<text x="84.10" y="282.10" class="tk" text-anchor="middle">P3</text>
<path d="M111.30 273.00V276.40" stroke="#000" stroke-width="1.0"/>
<text x="111.30" y="282.10" class="tk" text-anchor="middle">P5</text>
<path d="M138.50 273.00V276.40" stroke="#000" stroke-width="1.0"/>
<text x="138.50" y="282.10" class="tk" text-anchor="middle">P7</text>
<path d="M165.70 273.00V276.40" stroke="#000" stroke-width="1.0"/>
<text x="165.70" y="282.10" class="tk" text-anchor="middle">P9</text>
<text x="111.30" y="293.30" class="ti xt" text-anchor="middle">Pregnancy days</text>
<text transform="translate(29.90 228.20) rotate(-90)" class="ti" text-anchor="middle">T-SOD activity in spleen (U/mg)</text>
<text transform="translate(8.14 186.05) scale(0.768 1)" class="pl">E</text>
<rect x="224.40" y="218.00" width="5.65" height="54.70" fill="#d6d6d6"/>
<path d="M227.22 218.00V215.40M225.77 215.70H228.67" stroke="#d6d6d6" stroke-width="0.62" fill="none"/>
<text x="227.22" y="214.60" class="lt">a</text>
<rect x="230.05" y="221.60" width="5.65" height="51.10" fill="#a1a1a4"/>
<path d="M232.87 221.60V219.60M231.42 219.90H234.32" stroke="#a1a1a4" stroke-width="0.62" fill="none"/>
<text x="232.87" y="218.80" class="lt">a</text>
<rect x="235.70" y="231.60" width="5.65" height="41.10" fill="#626261"/>
<path d="M238.52 231.60V229.00M237.07 229.30H239.97" stroke="#626261" stroke-width="0.62" fill="none"/>
<text x="238.52" y="228.20" class="lt">b</text>
<rect x="241.35" y="233.00" width="5.65" height="39.70" fill="#000000"/>
<path d="M244.17 233.00V230.00M242.72 230.30H245.62" stroke="#000000" stroke-width="0.62" fill="none"/>
<text x="244.17" y="229.20" class="lt">b</text>
<rect x="251.55" y="215.00" width="5.65" height="57.70" fill="#d6d6d6"/>
<path d="M254.37 215.00V213.00M252.92 213.30H255.82" stroke="#d6d6d6" stroke-width="0.62" fill="none"/>
<text x="254.37" y="212.20" class="lt">a</text>
<rect x="257.20" y="224.00" width="5.65" height="48.70" fill="#a1a1a4"/>
<path d="M260.02 224.00V221.90M258.57 222.20H261.47" stroke="#a1a1a4" stroke-width="0.62" fill="none"/>
<text x="260.02" y="221.10" class="lt">b</text>
<rect x="262.85" y="227.40" width="5.65" height="45.30" fill="#626261"/>
<path d="M265.67 227.40V226.00M264.22 226.30H267.12" stroke="#626261" stroke-width="0.62" fill="none"/>
<text x="265.67" y="225.20" class="lt">b</text>
<rect x="268.50" y="233.00" width="5.65" height="39.70" fill="#000000"/>
<path d="M271.32 233.00V231.40M269.88 231.70H272.77" stroke="#000000" stroke-width="0.62" fill="none"/>
<text x="271.32" y="230.60" class="lt">c</text>
<rect x="278.70" y="211.40" width="5.65" height="61.30" fill="#d6d6d6"/>
<path d="M281.52 211.40V208.90M280.07 209.20H282.97" stroke="#d6d6d6" stroke-width="0.62" fill="none"/>
<text x="281.52" y="208.10" class="lt">a</text>
<rect x="284.35" y="225.60" width="5.65" height="47.10" fill="#a1a1a4"/>
<path d="M287.17 225.60V224.00M285.72 224.30H288.62" stroke="#a1a1a4" stroke-width="0.62" fill="none"/>
<text x="287.17" y="223.20" class="lt">b</text>
<rect x="290.00" y="229.00" width="5.65" height="43.70" fill="#626261"/>
<path d="M292.82 229.00V225.00M291.38 225.30H294.27" stroke="#626261" stroke-width="0.62" fill="none"/>
<text x="292.82" y="224.20" class="lt">b</text>
<rect x="295.65" y="237.00" width="5.65" height="35.70" fill="#000000"/>
<path d="M298.47 237.00V235.40M297.02 235.70H299.92" stroke="#000000" stroke-width="0.62" fill="none"/>
<text x="298.47" y="234.60" class="lt">c</text>
<rect x="305.85" y="210.00" width="5.65" height="62.70" fill="#d6d6d6"/>
<path d="M308.67 210.00V207.40M307.22 207.70H310.12" stroke="#d6d6d6" stroke-width="0.62" fill="none"/>
<text x="308.67" y="206.60" class="lt">a</text>
<rect x="311.50" y="222.60" width="5.65" height="50.10" fill="#a1a1a4"/>
<path d="M314.32 222.60V220.60M312.87 220.90H315.77" stroke="#a1a1a4" stroke-width="0.62" fill="none"/>
<text x="314.32" y="219.80" class="lt">b</text>
<rect x="317.15" y="231.00" width="5.65" height="41.70" fill="#626261"/>
<path d="M319.97 231.00V229.00M318.52 229.30H321.42" stroke="#626261" stroke-width="0.62" fill="none"/>
<text x="319.97" y="228.20" class="lt">c</text>
<rect x="322.80" y="231.00" width="5.65" height="41.70" fill="#000000"/>
<path d="M325.62 231.00V228.40M324.17 228.70H327.07" stroke="#000000" stroke-width="0.62" fill="none"/>
<text x="325.62" y="227.60" class="lt">c</text>
<rect x="333.00" y="207.40" width="5.65" height="65.30" fill="#d6d6d6"/>
<path d="M335.82 207.40V206.00M334.38 206.30H337.27" stroke="#d6d6d6" stroke-width="0.62" fill="none"/>
<text x="335.82" y="205.20" class="lt">a</text>
<rect x="338.65" y="220.40" width="5.65" height="52.30" fill="#a1a1a4"/>
<path d="M341.47 220.40V217.00M340.02 217.30H342.92" stroke="#a1a1a4" stroke-width="0.62" fill="none"/>
<text x="341.47" y="216.20" class="lt">b</text>
<rect x="344.30" y="228.40" width="5.65" height="44.30" fill="#626261"/>
<path d="M347.12 228.40V227.00M345.68 227.30H348.57" stroke="#626261" stroke-width="0.62" fill="none"/>
<text x="347.12" y="226.20" class="lt">c</text>
<rect x="349.95" y="229.40" width="5.65" height="43.30" fill="#000000"/>
<path d="M352.77 229.40V228.40M351.32 228.70H354.22" stroke="#000000" stroke-width="0.62" fill="none"/>
<text x="352.77" y="227.60" class="lt">c</text>
<path d="M222.25 182.05V272.70H357.80" stroke="#000" stroke-width="1.15" fill="none"/>
<path d="M218.45 272.70H222.25" stroke="#000" stroke-width="1.15"/>
<text x="217.75" y="274.60" class="tk" text-anchor="end">0</text>
<path d="M218.45 242.60H222.25" stroke="#000" stroke-width="1.15"/>
<text x="217.75" y="244.50" class="tk" text-anchor="end">50</text>
<path d="M218.45 212.50H222.25" stroke="#000" stroke-width="1.15"/>
<text x="217.75" y="214.40" class="tk" text-anchor="end">100</text>
<path d="M218.45 182.40H222.25" stroke="#000" stroke-width="1.15"/>
<text x="217.75" y="184.30" class="tk" text-anchor="end">150</text>
<path d="M235.70 272.70V276.10" stroke="#000" stroke-width="1.0"/>
<text x="235.70" y="281.80" class="tk" text-anchor="middle">P1</text>
<path d="M262.85 272.70V276.10" stroke="#000" stroke-width="1.0"/>
<text x="262.85" y="281.80" class="tk" text-anchor="middle">P3</text>
<path d="M290.00 272.70V276.10" stroke="#000" stroke-width="1.0"/>
<text x="290.00" y="281.80" class="tk" text-anchor="middle">P5</text>
<path d="M317.15 272.70V276.10" stroke="#000" stroke-width="1.0"/>
<text x="317.15" y="281.80" class="tk" text-anchor="middle">P7</text>
<path d="M344.30 272.70V276.10" stroke="#000" stroke-width="1.0"/>
<text x="344.30" y="281.80" class="tk" text-anchor="middle">P9</text>
<text x="290.00" y="293.00" class="ti xt" text-anchor="middle">Pregnancy days</text>
<text transform="translate(204.55 227.55) rotate(-90)" class="ti" text-anchor="middle">GSH-Px activity in spleen (U/mg)</text>
<text transform="translate(183.30 186.05) scale(0.8 1)" class="pl">F</text>
<rect x="395.90" y="229.00" width="5.65" height="43.70" fill="#d6d6d6"/>
<path d="M398.72 229.00V226.60M397.27 226.90H400.17" stroke="#d6d6d6" stroke-width="0.62" fill="none"/>
<text x="398.72" y="225.80" class="lt">a</text>
<rect x="401.55" y="233.40" width="5.65" height="39.30" fill="#a1a1a4"/>
<path d="M404.37 233.40V231.60M402.92 231.90H405.82" stroke="#a1a1a4" stroke-width="0.62" fill="none"/>
<text x="404.37" y="230.80" class="lt">b</text>
<rect x="407.20" y="238.00" width="5.65" height="34.70" fill="#626261"/>
<path d="M410.02 238.00V237.00M408.57 237.30H411.47" stroke="#626261" stroke-width="0.62" fill="none"/>
<text x="410.02" y="236.20" class="lt">c</text>
<rect x="412.85" y="250.00" width="5.65" height="22.70" fill="#000000"/>
<path d="M415.67 250.00V249.00M414.22 249.30H417.12" stroke="#000000" stroke-width="0.62" fill="none"/>
<text x="415.67" y="248.20" class="lt">d</text>
<rect x="423.17" y="234.00" width="5.65" height="38.70" fill="#d6d6d6"/>
<path d="M425.99 234.00V232.00M424.54 232.30H427.44" stroke="#d6d6d6" stroke-width="0.62" fill="none"/>
<text x="425.99" y="231.20" class="lt">a</text>
<rect x="428.82" y="235.00" width="5.65" height="37.70" fill="#a1a1a4"/>
<path d="M431.64 235.00V233.60M430.19 233.90H433.09" stroke="#a1a1a4" stroke-width="0.62" fill="none"/>
<text x="431.64" y="232.80" class="lt">b</text>
<rect x="434.47" y="237.40" width="5.65" height="35.30" fill="#626261"/>
<path d="M437.29 237.40V232.40M435.84 232.70H438.74" stroke="#626261" stroke-width="0.62" fill="none"/>
<text x="437.29" y="231.60" class="lt">b</text>
<rect x="440.12" y="252.40" width="5.65" height="20.30" fill="#000000"/>
<path d="M442.94 252.40V251.00M441.49 251.30H444.39" stroke="#000000" stroke-width="0.62" fill="none"/>
<text x="442.94" y="250.20" class="lt">c</text>
<rect x="450.44" y="218.00" width="5.65" height="54.70" fill="#d6d6d6"/>
<path d="M453.26 218.00V215.00M451.81 215.30H454.71" stroke="#d6d6d6" stroke-width="0.62" fill="none"/>
<text x="453.26" y="214.20" class="lt">a</text>
<rect x="456.09" y="232.00" width="5.65" height="40.70" fill="#a1a1a4"/>
<path d="M458.91 232.00V230.00M457.46 230.30H460.36" stroke="#a1a1a4" stroke-width="0.62" fill="none"/>
<text x="458.91" y="229.20" class="lt">b</text>
<rect x="461.74" y="243.00" width="5.65" height="29.70" fill="#626261"/>
<path d="M464.56 243.00V240.00M463.12 240.30H466.01" stroke="#626261" stroke-width="0.62" fill="none"/>
<text x="464.56" y="239.20" class="lt">c</text>
<rect x="467.39" y="250.00" width="5.65" height="22.70" fill="#000000"/>
<path d="M470.21 250.00V248.00M468.76 248.30H471.66" stroke="#000000" stroke-width="0.62" fill="none"/>
<text x="470.21" y="247.20" class="lt">d</text>
<rect x="477.71" y="216.00" width="5.65" height="56.70" fill="#d6d6d6"/>
<path d="M480.53 216.00V214.00M479.08 214.30H481.98" stroke="#d6d6d6" stroke-width="0.62" fill="none"/>
<text x="480.53" y="213.20" class="lt">a</text>
<rect x="483.36" y="233.00" width="5.65" height="39.70" fill="#a1a1a4"/>
<path d="M486.18 233.00V231.60M484.73 231.90H487.63" stroke="#a1a1a4" stroke-width="0.62" fill="none"/>
<text x="486.18" y="230.80" class="lt">b</text>
<rect x="489.01" y="239.00" width="5.65" height="33.70" fill="#626261"/>
<path d="M491.83 239.00V237.40M490.38 237.70H493.28" stroke="#626261" stroke-width="0.62" fill="none"/>
<text x="491.83" y="236.60" class="lt">c</text>
<rect x="494.66" y="243.40" width="5.65" height="29.30" fill="#000000"/>
<path d="M497.48 243.40V239.40M496.03 239.70H498.93" stroke="#000000" stroke-width="0.62" fill="none"/>
<text x="497.48" y="238.60" class="lt">c</text>
<rect x="504.98" y="201.60" width="5.65" height="71.10" fill="#d6d6d6"/>
<path d="M507.80 201.60V199.00M506.35 199.30H509.25" stroke="#d6d6d6" stroke-width="0.62" fill="none"/>
<text x="507.80" y="198.20" class="lt">a</text>
<rect x="510.63" y="226.00" width="5.65" height="46.70" fill="#a1a1a4"/>
<path d="M513.45 226.00V223.00M512.00 223.30H514.90" stroke="#a1a1a4" stroke-width="0.62" fill="none"/>
<text x="513.45" y="222.20" class="lt">b</text>
<rect x="516.28" y="234.00" width="5.65" height="38.70" fill="#626261"/>
<path d="M519.11 234.00V233.00M517.65 233.30H520.56" stroke="#626261" stroke-width="0.62" fill="none"/>
<text x="519.11" y="232.20" class="lt">c</text>
<rect x="521.93" y="242.00" width="5.65" height="30.70" fill="#000000"/>
<path d="M524.75 242.00V240.60M523.30 240.90H526.21" stroke="#000000" stroke-width="0.62" fill="none"/>
<text x="524.75" y="239.80" class="lt">d</text>
<path d="M394.35 182.05V272.70H529.78" stroke="#000" stroke-width="1.15" fill="none"/>
<path d="M390.55 272.70H394.35" stroke="#000" stroke-width="1.15"/>
<text x="389.85" y="274.60" class="tk" text-anchor="end">0</text>
<path d="M390.55 242.60H394.35" stroke="#000" stroke-width="1.15"/>
<text x="389.85" y="244.50" class="tk" text-anchor="end">2</text>
<path d="M390.55 212.50H394.35" stroke="#000" stroke-width="1.15"/>
<text x="389.85" y="214.40" class="tk" text-anchor="end">4</text>
<path d="M390.55 182.40H394.35" stroke="#000" stroke-width="1.15"/>
<text x="389.85" y="184.30" class="tk" text-anchor="end">6</text>
<path d="M407.20 272.70V276.10" stroke="#000" stroke-width="1.0"/>
<text x="407.20" y="281.80" class="tk" text-anchor="middle">P1</text>
<path d="M434.47 272.70V276.10" stroke="#000" stroke-width="1.0"/>
<text x="434.47" y="281.80" class="tk" text-anchor="middle">P3</text>
<path d="M461.74 272.70V276.10" stroke="#000" stroke-width="1.0"/>
<text x="461.74" y="281.80" class="tk" text-anchor="middle">P5</text>
<path d="M489.01 272.70V276.10" stroke="#000" stroke-width="1.0"/>
<text x="489.01" y="281.80" class="tk" text-anchor="middle">P7</text>
<path d="M516.28 272.70V276.10" stroke="#000" stroke-width="1.0"/>
<text x="516.28" y="281.80" class="tk" text-anchor="middle">P9</text>
<text x="461.74" y="293.00" class="ti xt" text-anchor="middle">Pregnancy days</text>
<text transform="translate(382.95 227.55) rotate(-90)" class="ti" text-anchor="middle">T-AOC content in spleen (U/mg)</text>
<text transform="translate(359.34 186.05) scale(0.889 1)" class="pl">G</text>
<rect x="567.36" y="238.40" width="5.67" height="34.50" fill="#d6d6d6"/>
<path d="M570.20 238.40V236.00M568.75 236.30H571.65" stroke="#d6d6d6" stroke-width="0.62" fill="none"/>
<text x="570.20" y="235.20" class="lt">c</text>
<rect x="573.03" y="223.60" width="5.67" height="49.30" fill="#a1a1a4"/>
<path d="M575.87 223.60V221.00M574.41 221.30H577.32" stroke="#a1a1a4" stroke-width="0.62" fill="none"/>
<text x="575.87" y="220.20" class="lt">b</text>
<rect x="578.70" y="215.00" width="5.67" height="57.90" fill="#626261"/>
<path d="M581.54 215.00V212.00M580.09 212.30H582.99" stroke="#626261" stroke-width="0.62" fill="none"/>
<text x="581.54" y="211.20" class="lt" letter-spacing="-0.35">ab</text>
<rect x="584.37" y="213.00" width="5.67" height="59.90" fill="#000000"/>
<path d="M587.21 213.00V206.40M585.75 206.70H588.66" stroke="#000000" stroke-width="0.62" fill="none"/>
<text x="587.21" y="210.90" class="lt">a</text>
<rect x="594.66" y="212.00" width="5.67" height="60.90" fill="#d6d6d6"/>
<path d="M597.50 212.00V209.60M596.04 209.90H598.95" stroke="#d6d6d6" stroke-width="0.62" fill="none"/>
<text x="597.50" y="208.80" class="lt">c</text>
<rect x="600.33" y="206.00" width="5.67" height="66.90" fill="#a1a1a4"/>
<path d="M603.16 206.00V203.70M601.71 204.00H604.62" stroke="#a1a1a4" stroke-width="0.62" fill="none"/>
<text x="603.16" y="202.90" class="lt" letter-spacing="-0.35">bc</text>
<rect x="606.00" y="202.00" width="5.67" height="70.90" fill="#626261"/>
<path d="M608.84 202.00V200.30M607.38 200.60H610.29" stroke="#626261" stroke-width="0.62" fill="none"/>
<text x="608.84" y="199.50" class="lt" letter-spacing="-0.35">ab</text>
<rect x="611.67" y="199.40" width="5.67" height="73.50" fill="#000000"/>
<path d="M614.50 199.40V192.80M613.05 193.10H615.96" stroke="#000000" stroke-width="0.62" fill="none"/>
<text x="614.50" y="197.30" class="lt">a</text>
<rect x="621.96" y="230.00" width="5.67" height="42.90" fill="#d6d6d6"/>
<path d="M624.80 230.00V228.00M623.35 228.30H626.25" stroke="#d6d6d6" stroke-width="0.62" fill="none"/>
<text x="624.80" y="227.20" class="lt">b</text>
<rect x="627.63" y="225.00" width="5.67" height="47.90" fill="#a1a1a4"/>
<path d="M630.47 225.00V220.60M629.01 220.90H631.92" stroke="#a1a1a4" stroke-width="0.62" fill="none"/>
<text x="630.47" y="219.80" class="lt">b</text>
<rect x="633.30" y="224.00" width="5.67" height="48.90" fill="#626261"/>
<path d="M636.14 224.00V220.60M634.69 220.90H637.59" stroke="#626261" stroke-width="0.62" fill="none"/>
<text x="636.14" y="219.80" class="lt">b</text>
<rect x="638.97" y="211.40" width="5.67" height="61.50" fill="#000000"/>
<path d="M641.81 211.40V205.40M640.36 205.70H643.26" stroke="#000000" stroke-width="0.62" fill="none"/>
<text x="641.81" y="209.90" class="lt">a</text>
<rect x="649.26" y="237.00" width="5.67" height="35.90" fill="#d6d6d6"/>
<path d="M652.10 237.00V235.60M650.64 235.90H653.55" stroke="#d6d6d6" stroke-width="0.62" fill="none"/>
<text x="652.10" y="234.80" class="lt">b</text>
<rect x="654.93" y="232.00" width="5.67" height="40.90" fill="#a1a1a4"/>
<path d="M657.76 232.00V230.00M656.31 230.30H659.22" stroke="#a1a1a4" stroke-width="0.62" fill="none"/>
<text x="657.76" y="229.20" class="lt" letter-spacing="-0.35">ab</text>
<rect x="660.60" y="224.00" width="5.67" height="48.90" fill="#626261"/>
<path d="M663.44 224.00V220.60M661.99 220.90H664.89" stroke="#626261" stroke-width="0.62" fill="none"/>
<text x="663.44" y="219.80" class="lt">a</text>
<rect x="666.27" y="221.60" width="5.67" height="51.30" fill="#000000"/>
<path d="M669.11 221.60V214.40M667.65 214.70H670.56" stroke="#000000" stroke-width="0.62" fill="none"/>
<text x="669.11" y="218.90" class="lt">a</text>
<rect x="676.56" y="242.00" width="5.67" height="30.90" fill="#d6d6d6"/>
<path d="M679.40 242.00V239.60M677.95 239.90H680.85" stroke="#d6d6d6" stroke-width="0.62" fill="none"/>
<text x="679.40" y="238.80" class="lt">c</text>
<rect x="682.23" y="235.00" width="5.67" height="37.90" fill="#a1a1a4"/>
<path d="M685.07 235.00V234.40M683.62 234.70H686.52" stroke="#a1a1a4" stroke-width="0.62" fill="none"/>
<text x="685.07" y="233.60" class="lt">b</text>
<rect x="687.90" y="233.00" width="5.67" height="39.90" fill="#626261"/>
<path d="M690.74 233.00V231.00M689.29 231.30H692.19" stroke="#626261" stroke-width="0.62" fill="none"/>
<text x="690.74" y="230.20" class="lt">b</text>
<rect x="693.57" y="225.00" width="5.67" height="47.90" fill="#000000"/>
<path d="M696.41 225.00V219.40M694.96 219.70H697.86" stroke="#000000" stroke-width="0.62" fill="none"/>
<text x="696.41" y="223.90" class="lt">a</text>
<path d="M565.60 181.65V272.90H701.44" stroke="#000" stroke-width="1.15" fill="none"/>
<path d="M561.80 272.90H565.60" stroke="#000" stroke-width="1.15"/>
<text x="561.10" y="274.80" class="tk" text-anchor="end">0</text>
<path d="M561.80 250.17H565.60" stroke="#000" stroke-width="1.15"/>
<text x="561.10" y="252.07" class="tk" text-anchor="end">2</text>
<path d="M561.80 227.45H565.60" stroke="#000" stroke-width="1.15"/>
<text x="561.10" y="229.35" class="tk" text-anchor="end">4</text>
<path d="M561.80 204.72H565.60" stroke="#000" stroke-width="1.15"/>
<text x="561.10" y="206.62" class="tk" text-anchor="end">6</text>
<path d="M561.80 182.00H565.60" stroke="#000" stroke-width="1.15"/>
<text x="561.10" y="183.90" class="tk" text-anchor="end">8</text>
<path d="M578.70 272.90V276.30" stroke="#000" stroke-width="1.0"/>
<text x="578.70" y="282.00" class="tk" text-anchor="middle">P1</text>
<path d="M606.00 272.90V276.30" stroke="#000" stroke-width="1.0"/>
<text x="606.00" y="282.00" class="tk" text-anchor="middle">P3</text>
<path d="M633.30 272.90V276.30" stroke="#000" stroke-width="1.0"/>
<text x="633.30" y="282.00" class="tk" text-anchor="middle">P5</text>
<path d="M660.60 272.90V276.30" stroke="#000" stroke-width="1.0"/>
<text x="660.60" y="282.00" class="tk" text-anchor="middle">P7</text>
<path d="M687.90 272.90V276.30" stroke="#000" stroke-width="1.0"/>
<text x="687.90" y="282.00" class="tk" text-anchor="middle">P9</text>
<text x="633.30" y="293.20" class="ti xt" text-anchor="middle">Pregnancy days</text>
<text transform="translate(554.20 227.45) rotate(-90)" class="ti" text-anchor="middle">MDA content in spleen (nmol/mg)</text>
<text transform="translate(532.15 186.05) scale(0.935 1)" class="pl">H</text>
<rect x="661.3" y="8.10" width="15.2" height="3.7" fill="#d6d6d6"/>
<text x="685.2" y="13.25" class="lg">Control</text>
<rect x="661.3" y="19.95" width="15.2" height="3.7" fill="#a1a1a4"/>
<text x="685.2" y="25.10" class="lg">0.02 mg/kg</text>
<rect x="661.3" y="31.80" width="15.2" height="3.7" fill="#626261"/>
<text x="685.2" y="36.95" class="lg">0.2 mg/kg</text>
<rect x="661.3" y="43.65" width="15.2" height="3.7" fill="#000000"/>
<text x="685.2" y="48.80" class="lg">2 mg/kg</text>
</svg>
</body></html>
